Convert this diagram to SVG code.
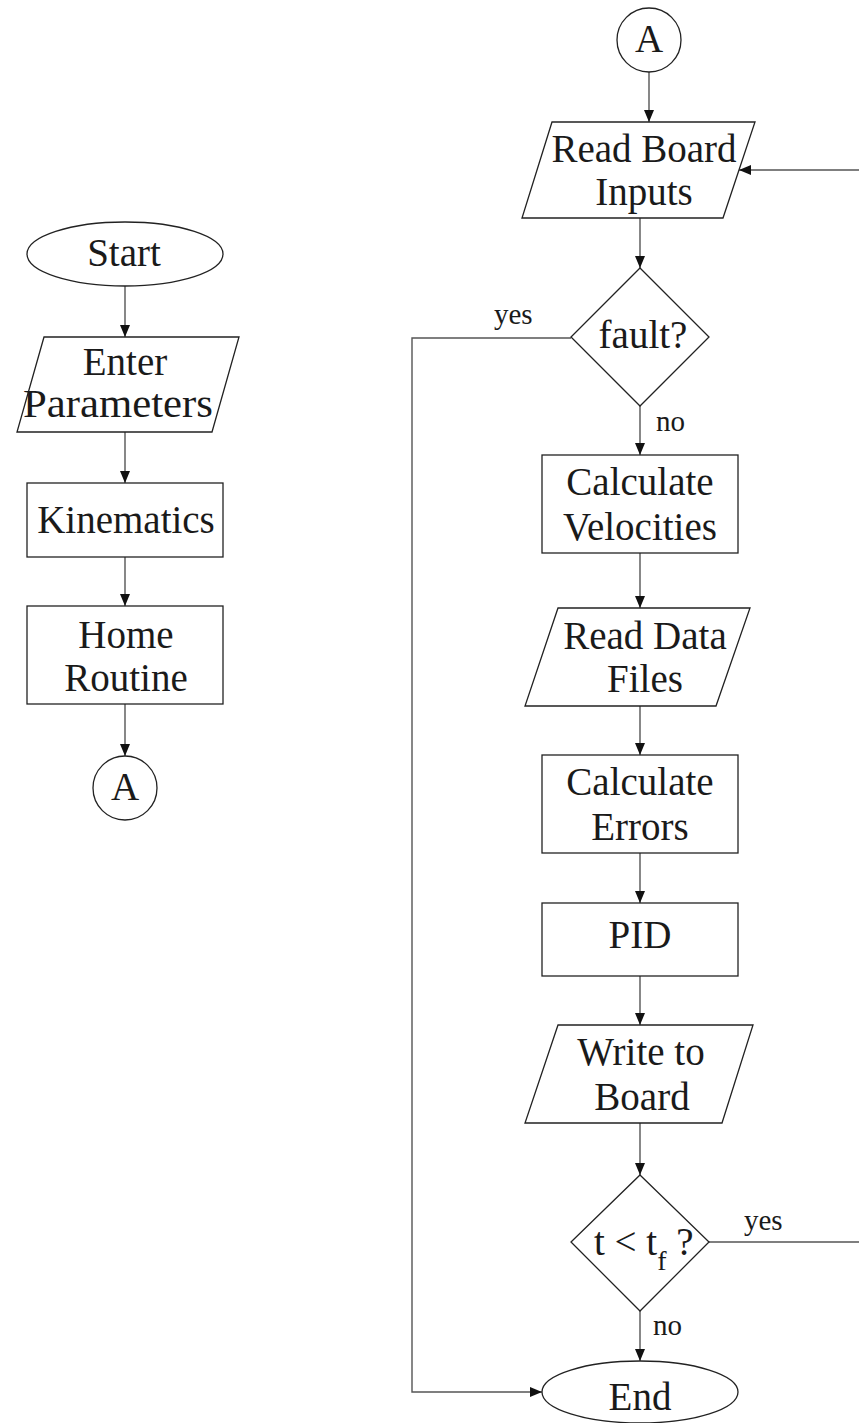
<svg xmlns="http://www.w3.org/2000/svg" width="859" height="1423" viewBox="0 0 859 1423">
  <defs>
    <marker id="arrow" viewBox="0 0 12 10" refX="12" refY="5" markerWidth="12" markerHeight="10" markerUnits="userSpaceOnUse" orient="auto">
      <path d="M0,0 L12,5 L0,10 Z" fill="#111"/>
    </marker>
    <style>
      .shape { fill: #fff; stroke: #222; stroke-width: 1.3; }
      .conn { fill: none; stroke: #555; stroke-width: 1.4; }
      .lbl { font-family: "Liberation Serif", "Times New Roman", serif; font-size: 39px; fill: #1a1a1a; text-anchor: middle; }
      .small { font-family: "Liberation Serif", "Times New Roman", serif; font-size: 29px; fill: #1a1a1a; }
    </style>
  </defs>
  <rect width="859" height="1423" fill="#fff"/>

  <!-- connectors -->
  <g id="connectors">
    <line class="conn" x1="125" y1="286" x2="125" y2="337" marker-end="url(#arrow)"/>
    <line class="conn" x1="125" y1="432" x2="125" y2="483" marker-end="url(#arrow)"/>
    <line class="conn" x1="125" y1="557" x2="125" y2="606" marker-end="url(#arrow)"/>
    <line class="conn" x1="125" y1="704" x2="125" y2="756" marker-end="url(#arrow)"/>

    <line class="conn" x1="649" y1="72" x2="649" y2="122" marker-end="url(#arrow)"/>
    <line class="conn" x1="640" y1="218" x2="640" y2="268" marker-end="url(#arrow)"/>
    <line class="conn" x1="640" y1="406" x2="640" y2="455" marker-end="url(#arrow)"/>
    <line class="conn" x1="640" y1="553" x2="640" y2="608" marker-end="url(#arrow)"/>
    <line class="conn" x1="640" y1="706" x2="640" y2="755" marker-end="url(#arrow)"/>
    <line class="conn" x1="640" y1="853" x2="640" y2="903" marker-end="url(#arrow)"/>
    <line class="conn" x1="640" y1="976" x2="640" y2="1025" marker-end="url(#arrow)"/>
    <line class="conn" x1="640" y1="1123" x2="640" y2="1175" marker-end="url(#arrow)"/>
    <line class="conn" x1="640" y1="1311" x2="640" y2="1361" marker-end="url(#arrow)"/>

    <polyline class="conn" points="571,338 412,338 412,1392 542,1392" marker-end="url(#arrow)"/>
    <line class="conn" x1="709" y1="1242" x2="859" y2="1242"/>
    <line class="conn" x1="859" y1="170" x2="739" y2="170" marker-end="url(#arrow)"/>

    <text class="small" x="494" y="324">yes</text>
    <text class="small" x="656" y="431">no</text>
    <text class="small" x="744" y="1230">yes</text>
    <text class="small" x="653" y="1335">no</text>
  </g>

  <!-- left flow -->
  <g id="start">
    <ellipse class="shape" cx="125" cy="254" rx="98" ry="32"/>
    <text class="lbl" x="124" y="266">Start</text>
  </g>
  <g id="enter-parameters">
    <polygon class="shape" points="44,337 239,337 212,432 17,432"/>
    <text class="lbl" x="125" y="375">Enter</text>
    <text class="lbl" x="118" y="417" textLength="190" lengthAdjust="spacingAndGlyphs">Parameters</text>
  </g>
  <g id="kinematics">
    <rect class="shape" x="27" y="483" width="196" height="74"/>
    <text class="lbl" x="126" y="533">Kinematics</text>
  </g>
  <g id="home-routine">
    <rect class="shape" x="27" y="606" width="196" height="98"/>
    <text class="lbl" x="126" y="648">Home</text>
    <text class="lbl" x="126" y="691">Routine</text>
  </g>
  <g id="connector-a-out">
    <circle class="shape" cx="125" cy="788" r="32"/>
    <text class="lbl" x="125" y="800">A</text>
  </g>

  <!-- right flow -->
  <g id="connector-a-in">
    <circle class="shape" cx="649" cy="40" r="32"/>
    <text class="lbl" x="649" y="52">A</text>
  </g>
  <g id="read-board-inputs">
    <polygon class="shape" points="552,122 755,122 723,218 522,218"/>
    <text class="lbl" x="644" y="162">Read Board</text>
    <text class="lbl" x="644" y="205">Inputs</text>
  </g>
  <g id="fault">
    <polygon class="shape" points="640,268 709,337 640,406 571,337"/>
    <text class="lbl" x="643" y="348">fault?</text>
  </g>
  <g id="calculate-velocities">
    <rect class="shape" x="542" y="455" width="196" height="98"/>
    <text class="lbl" x="640" y="495">Calculate</text>
    <text class="lbl" x="640" y="540">Velocities</text>
  </g>
  <g id="read-data-files">
    <polygon class="shape" points="558,608 750,608 716,706 525,706"/>
    <text class="lbl" x="645" y="649">Read Data</text>
    <text class="lbl" x="645" y="692">Files</text>
  </g>
  <g id="calculate-errors">
    <rect class="shape" x="542" y="755" width="196" height="98"/>
    <text class="lbl" x="640" y="795">Calculate</text>
    <text class="lbl" x="640" y="840">Errors</text>
  </g>
  <g id="pid">
    <rect class="shape" x="542" y="903" width="196" height="73"/>
    <text class="lbl" x="640" y="948">PID</text>
  </g>
  <g id="write-to-board">
    <polygon class="shape" points="558,1025 753,1025 722,1123 525,1123"/>
    <text class="lbl" x="641" y="1065">Write to</text>
    <text class="lbl" x="642" y="1110">Board</text>
  </g>
  <g id="time-check">
    <polygon class="shape" points="640,1175 709,1242 640,1311 571,1242"/>
    <text class="lbl" x="594" y="1255" style="text-anchor:start">t &lt; t<tspan font-size="28" dy="15">f</tspan><tspan dy="-15"> ?</tspan></text>
  </g>
  <g id="end">
    <ellipse class="shape" cx="640" cy="1392" rx="98" ry="31"/>
    <text class="lbl" x="640" y="1410">End</text>
  </g>
</svg>
